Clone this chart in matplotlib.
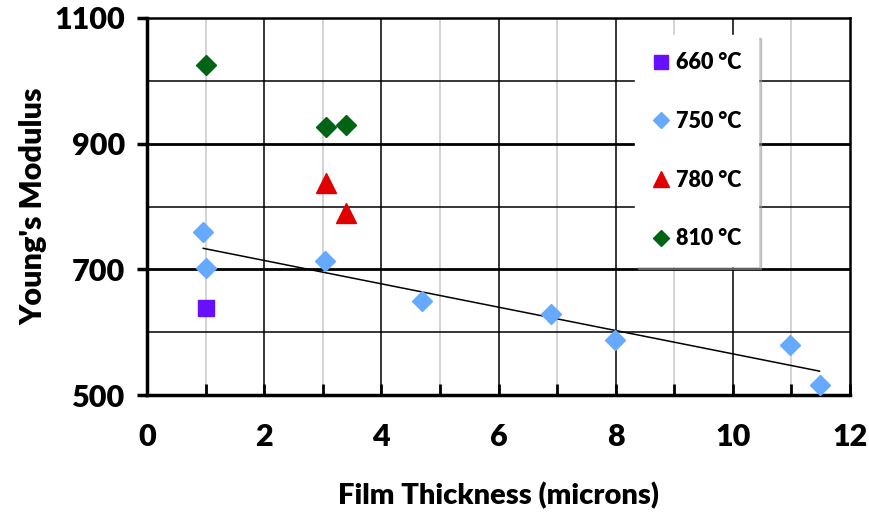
import numpy as np
from matplotlib import pyplot as plt
from matplotlib import font_manager
from matplotlib.ticker import FixedLocator, MultipleLocator

# data
x_660 = [1.0]
y_660 = [638]
x_750 = [0.96, 1.0, 3.04, 4.69, 6.89, 7.99, 10.97, 11.48]
y_750 = [760, 702, 713, 650, 629, 588, 580, 516]
x_780 = [3.05, 3.4]
y_780 = [838, 790]
x_810 = [1.0, 3.05, 3.4]
y_810 = [1025, 927, 930]
labels = ["660 °C", "750 °C", "780 °C", "810 °C"]
y_ticks = [500, 700, 900, 1100]

names = {f.name for f in font_manager.fontManager.ttflist}
font = "Liberation Sans Narrow" if "Liberation Sans Narrow" in names else "Lato"
plt.rcParams['font.family'] = [font, 'DejaVu Sans']
plt.rcParams['font.weight'] = 'heavy'

fig = plt.figure(figsize=(8.7, 5.29), dpi=100)
ax = fig.add_axes([0.169, 0.253, 0.808, 0.713])

# grid
for gx in range(1, 12):
    if gx % 2 == 0:
        ax.axvline(gx, color="black", linewidth=1.1, zorder=1)
    else:
        ax.axvline(gx, color="#c8c8c8", linewidth=1.1, zorder=1)
for gy in [600, 800, 1000]:
    ax.axhline(gy, color="black", linewidth=1.1, zorder=1)
for gy in [700, 900]:
    ax.axhline(gy, color="black", linewidth=2.0, zorder=1)

# trend line of the 750 series
k, b = np.polyfit(x_750, y_750, 1)
tx = np.array([min(x_750), max(x_750)])
ax.plot(tx, k * tx + b, color="black", linewidth=1.1, zorder=2)

ax.plot(x_660, y_660, 's', color="#6610ff", markersize=12, label=labels[0], zorder=3, clip_on=False)
ax.plot(x_750, y_750, 'D', color="#66aaff", markersize=10, label=labels[1], zorder=3, clip_on=False)
ax.plot(x_780, y_780, '^', color="#e00000", markersize=14, label=labels[2], zorder=3, clip_on=False)
ax.plot(x_810, y_810, 'D', color="#006414", markersize=10, label=labels[3], zorder=3, clip_on=False)

ax.set_xlim(0, 12)
ax.set_ylim(500, 1100)
ax.xaxis.set_major_locator(MultipleLocator(2))
ax.xaxis.set_minor_locator(MultipleLocator(1))
ax.yaxis.set_major_locator(FixedLocator(y_ticks))
ax.tick_params(axis='x', which='both', direction='in', length=8, width=2, pad=20, labelsize=22)
ax.tick_params(axis='y', which='major', direction='out', length=7, width=2.5, pad=9, labelsize=22)

for side in ['left', 'bottom']:
    ax.spines[side].set_linewidth(2.5)
for side in ['top', 'right']:
    ax.spines[side].set_linewidth(1.8)

ax.set_xlabel("Film Thickness (microns)", fontsize=21, fontweight='heavy', labelpad=22)
ax.set_ylabel("Young's Modulus", fontsize=22, fontweight='heavy', labelpad=5)

leg = ax.legend(loc='upper left', bbox_to_anchor=(0.694, 0.955), borderaxespad=0,
                fontsize=15.5, labelspacing=1.75, handlelength=0.8, handletextpad=0.3,
                borderpad=0.8, markerscale=0.8, frameon=True, fancybox=False,
                shadow={'color': '0.6', 'alpha': 0.5})
leg.get_frame().set_edgecolor('white')
leg.get_frame().set_alpha(1)

fig.savefig("out.png", dpi=100)
